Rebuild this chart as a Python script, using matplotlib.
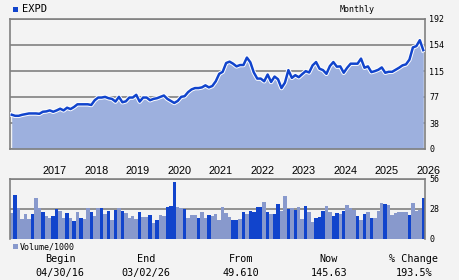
import numpy as np
import matplotlib
matplotlib.use("Agg")
import matplotlib.pyplot as plt

# monthly closes, Apr 2016 .. Mar 2026
price = [50.6, 49, 49, 50.5, 51.5, 52.5, 52.5, 52.5, 52, 55,
         55.5, 57, 55, 57, 59.5, 57, 61, 59, 62, 66,
         66, 66, 66, 65, 72, 76, 76, 77, 75, 74,
         70, 77, 69, 70.4, 76, 76, 80, 70, 76, 76,
         72, 74, 75, 77, 79, 74, 71, 68, 71, 77,
         78, 84, 88, 90, 90, 91, 94, 91, 93, 100,
         111, 114, 127, 129, 126, 122, 124, 124, 135, 128,
         113, 104, 104, 100, 110, 99, 107, 103, 90, 98,
         116.5, 105, 109, 106, 110.6, 115, 113, 123.5, 128.4, 118.6,
         116.5, 111, 122.5, 128.4, 121.6, 122, 112.6, 120, 126, 126,
         126, 133.5, 120, 122, 113.5, 115, 117, 120.5, 112.6, 114,
         114, 117, 120, 123.5, 125, 132, 150, 152, 160.7, 146]

volume = [24.4, 41, 28.7, 19, 23.4, 19, 23.4, 38.4, 28.7, 25.3,
          21.6, 20, 21.6, 28, 26, 20, 24.4, 20, 17, 25.3,
          19.7, 19, 28.7, 25.3, 21.6, 28.7, 29, 23.4, 26, 18,
          27.5, 28.7, 26, 24.4, 19.7, 21.6, 18.7, 25.3, 20.6, 20.6,
          22.5, 15, 17.8, 22.5, 21.6, 30, 31, 53.4, 30, 29,
          28, 19.7, 22.5, 22.5, 19.7, 25.3, 19.7, 22.5, 21.6, 23.4,
          17.8, 29.7, 24, 20.3, 17.4, 17.4, 18.4, 25, 23, 26,
          25, 29.7, 29.7, 34.5, 25, 23, 23, 32.6, 26, 40,
          27.8, 28.8, 27, 29.7, 18.4, 30.7, 25, 15.5, 19.3, 20.3,
          26, 30.7, 25, 21.2, 24, 23, 26, 31.6, 28.8, 27,
          21.2, 17.4, 23, 25, 19.3, 19.3, 26, 33.5, 32.6, 31.6,
          22, 24, 25, 25, 25, 22, 33.5, 26, 27, 38.3]

vol_dark = [0, 1, 0, 0, 0, 0, 1, 0, 0, 1,
            0, 0, 1, 1, 0, 0, 1, 0, 1, 0,
            1, 0, 0, 1, 0, 0, 1, 0, 1, 0,
            1, 0, 1, 0, 0, 0, 0, 1, 0, 0,
            1, 0, 1, 0, 0, 1, 1, 1, 0, 0,
            1, 0, 0, 0, 1, 0, 0, 1, 0, 0,
            0, 0, 0, 0, 1, 1, 0, 1, 0, 1,
            1, 1, 1, 0, 1, 0, 1, 1, 0, 0,
            1, 0, 1, 0, 0, 1, 0, 0, 1, 1,
            1, 0, 0, 1, 1, 0, 1, 0, 0, 0,
            1, 0, 1, 0, 1, 0, 0, 0, 1, 0,
            0, 0, 0, 0, 0, 1, 0, 0, 0, 1]

years = ["2017", "2018", "2019", "2020", "2021", "2022", "2023", "2024", "2025", "2026"]
year_idx = [9, 21, 33, 45, 57, 69, 81, 93, 105, 117]
price_ticks = [0, 38, 77, 115, 154, 192]
vol_ticks = [0, 28, 56]

symbol = "EXPD"
stats_head = ["Begin", "End", "From", "Now", "% Change"]
stats_val = ["04/30/16", "03/02/26", "49.610", "145.63", "193.5%"]

BG = "#f3f3f3"
DARK = "#1144cc"
LIGHT = "#8899cc"
FILL = "#9db0de"
GRID = "#808080"
MONO = "DejaVu Sans Mono"

W, H = 460, 280
fig = plt.figure(figsize=(W / 100, H / 100), dpi=100, facecolor=BG)

def box(x0, y0, x1, y1):
    return [x0 / W, 1 - y1 / H, (x1 - x0) / W, (y1 - y0) / H]

x = np.arange(len(price))

ax = fig.add_axes(box(10, 19, 425, 149), facecolor=BG)
ax.fill_between(x, price, 0, color=FILL, lw=0, zorder=2)
ax.plot(x, price, color="white", lw=3.2, zorder=3)
ax.plot(x, price, color=DARK, lw=1.8, zorder=4)
ax.set_xlim(-0.5, len(price) - 0.5)
ax.set_ylim(0, 192)
ax.set_yticks(price_ticks)
ax.yaxis.grid(True, color=GRID, lw=1.2, zorder=1)
ax.set_axisbelow(True)
ax.yaxis.tick_right()
ax.tick_params(axis="y", length=0, pad=3, labelsize=6, labelcolor="black")
for t in ax.get_yticklabels():
    t.set_fontfamily(MONO)
ax.set_xticks(year_idx)
ax.set_xticklabels(years, fontsize=7.8, family="Liberation Sans", ha="left")
ax.tick_params(axis="x", length=0, pad=12)
for s in ax.spines.values():
    s.set_color(GRID)
    s.set_linewidth(1.2)

av = fig.add_axes(box(10, 179, 425, 239), facecolor=BG)
cols = [DARK if d else LIGHT for d in vol_dark]
av.bar(x, volume, width=1.0, color=cols, lw=0, zorder=2)
av.set_xlim(-0.5, len(price) - 0.5)
av.set_ylim(0, 56)
av.set_yticks(vol_ticks)
av.yaxis.grid(True, color=GRID, lw=1.2, zorder=1)
av.set_axisbelow(True)
av.yaxis.tick_right()
av.tick_params(axis="y", length=0, pad=3, labelsize=6)
for t in av.get_yticklabels():
    t.set_fontfamily(MONO)
av.set_xticks([])
for s in av.spines.values():
    s.set_color(GRID)
    s.set_linewidth(1.2)
av.spines["bottom"].set_visible(False)

def px(xp, yp):
    return xp / W, 1 - yp / H

fig.patches.append(plt.Rectangle(px(13, 12), 5 / W, 5 / H, transform=fig.transFigure,
                                 color=DARK, lw=0))
fig.text(*px(22, 9.5), symbol, fontsize=7.5, family=MONO, va="center")
fig.text(*px(357, 9.5), "Monthly", fontsize=6, family=MONO, va="center", ha="center")

fig.patches.append(plt.Rectangle(px(13, 249), 5 / W, 5 / H, transform=fig.transFigure,
                                 color=LIGHT, lw=0))
fig.text(*px(20, 246.5), "Volume/1000", fontsize=6, family=MONO, va="center")

cx = [60, 146, 241, 329, 414]
for c, h, v in zip(cx, stats_head, stats_val):
    fig.text(*px(c, 259), h, fontsize=7.3, family=MONO, ha="center", va="center")
    fig.text(*px(c, 273), v, fontsize=7.3, family=MONO, ha="center", va="center")

fig.savefig("out.png", dpi=100, facecolor=BG)
